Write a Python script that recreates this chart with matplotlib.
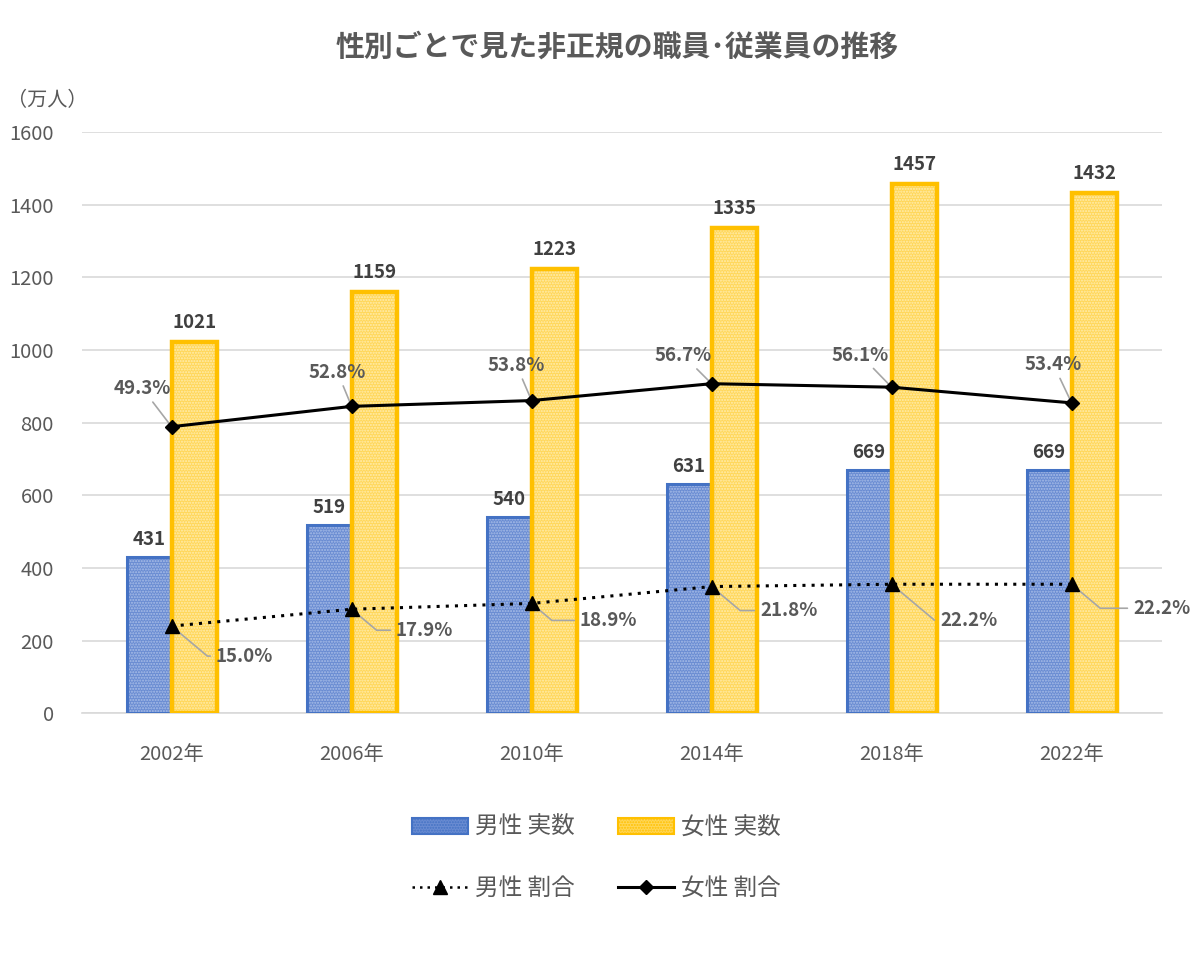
import matplotlib
matplotlib.use("Agg")
import matplotlib.pyplot as plt
from matplotlib.patches import Patch
from matplotlib.lines import Line2D
import numpy as np

plt.rcParams['font.family'] = ['Noto Sans CJK JP', 'DejaVu Sans']

years = ["2002年", "2006年", "2010年", "2014年", "2018年", "2022年"]
male_count = [431, 519, 540, 631, 669, 669]
female_count = [1021, 1159, 1223, 1335, 1457, 1432]
male_pct = [15.0, 17.9, 18.9, 21.8, 22.2, 22.2]
female_pct = [49.3, 52.8, 53.8, 56.7, 56.1, 53.4]

# label offsets in pixels (dx, dy) relative to each point
male_off = [(73, -30), (73, -21), (77, -17), (77, -24), (77, -36), (90, -24)]
female_off = [(-29, 38), (-14, 34), (-15, 35), (-28, 28), (-31, 32), (-18, 38)]

TXT = "#595959"
BLUE = "#4472C4"
GOLD = "#FFC000"
BLUE_FILL, BLUE_DOT = "#6A8CD2", "#A9BEE8"
GOLD_FILL, GOLD_DOT = "#FFD75A", "#FFEDB0"

fig = plt.figure(figsize=(12, 9.6), dpi=100)
ax = fig.add_axes([0.068, 0.257, 0.9, 0.6055])
x = np.arange(len(years))
w = 0.25

# bars: hatched fill first, outline second
ax.bar(x - w / 2, male_count, w, color=BLUE_FILL, edgecolor=BLUE_DOT,
       hatch="......", linewidth=0, zorder=2)
ax.bar(x - w / 2, male_count, w, fill=False, edgecolor=BLUE, linewidth=2.2, zorder=3)
ax.bar(x + w / 2, female_count, w, color=GOLD_FILL, edgecolor=GOLD_DOT,
       hatch="......", linewidth=0, zorder=2)
ax.bar(x + w / 2, female_count, w, fill=False, edgecolor=GOLD, linewidth=3.2, zorder=3)

for i in range(len(years)):
    ax.annotate(str(male_count[i]), (x[i] - w / 2, male_count[i]), xytext=(0, 8),
                textcoords="offset pixels", ha="center", va="bottom",
                fontsize=13.5, fontweight="bold", color="#404040")
    ax.annotate(str(female_count[i]), (x[i] + w / 2, female_count[i]), xytext=(0, 10),
                textcoords="offset pixels", ha="center", va="bottom",
                fontsize=13.5, fontweight="bold", color="#404040")

ax.set_xlim(-0.5, len(years) - 0.5)
ax.set_ylim(0, 1600)
ax.set_yticks(range(0, 1601, 200))
ax.set_xticks(x)
ax.set_xticklabels(years)
ax.tick_params(axis="both", length=0, labelsize=14.5, labelcolor=TXT)
ax.tick_params(axis="x", pad=22)
ax.tick_params(axis="y", pad=20)
ax.grid(axis="y", color="#D9D9D9", linewidth=1.2, zorder=0)
ax.set_axisbelow(True)
for s in ["top", "right", "left"]:
    ax.spines[s].set_visible(False)
ax.spines["bottom"].set_color("#D9D9D9")
ax.spines["bottom"].set_linewidth(1.2)

ax2 = ax.twinx()
ax2.set_ylim(0, 100)
ax2.axis("off")
ax2.plot(x, male_pct, color="black", linestyle=(0, (1, 2)), linewidth=2.2,
         marker="^", markersize=10, zorder=4)
ax2.plot(x, female_pct, color="black", linewidth=2.2, marker="D",
         markersize=7, zorder=4)

for i in range(len(years)):
    ax2.annotate(f"{male_pct[i]:.1f}%", (x[i], male_pct[i]), xytext=male_off[i],
                 textcoords="offset pixels", ha="center", va="center",
                 fontsize=13.5, fontweight="bold", color=TXT,
                 arrowprops=dict(arrowstyle="-", color="#A6A6A6", lw=1.2,
                                 shrinkA=2, shrinkB=3,
                                 connectionstyle="angle,angleA=0,angleB=-40,rad=0"))
    ax2.annotate(f"{female_pct[i]:.1f}%", (x[i], female_pct[i]), xytext=female_off[i],
                 textcoords="offset pixels", ha="center", va="center",
                 fontsize=13.5, fontweight="bold", color=TXT,
                 arrowprops=dict(arrowstyle="-", color="#A6A6A6", lw=1.2,
                                 shrinkA=1, shrinkB=3))

fig.text(0.514, 0.951, "性別ごとで見た非正規の職員･従業員の推移", ha="center",
         va="center", fontsize=20.8, fontweight="bold", color=TXT)
fig.text(0.006, 0.895, "（万人）", ha="left", va="center", fontsize=14.5, color=TXT)

handles = [
    Patch(facecolor=BLUE_FILL, edgecolor=BLUE, hatch="......", linewidth=1.5),
    Line2D([], [], color="black", linestyle=(0, (1, 2)), linewidth=1.8,
           marker="^", markersize=10),
    Patch(facecolor=GOLD_FILL, edgecolor=GOLD, hatch="......", linewidth=1.5),
    Line2D([], [], color="black", linewidth=2.2, marker="D", markersize=7),
]
labels = ["男性 実数", "男性 割合", "女性 実数", "女性 割合"]
leg = fig.legend(handles, labels, loc="center", bbox_to_anchor=(0.497, 0.106),
                 ncol=2, frameon=False, fontsize=17, handlelength=2.4,
                 handleheight=0.65, handletextpad=0.3, columnspacing=1.8,
                 labelspacing=1.6)
for t in leg.get_texts():
    t.set_color(TXT)

fig.savefig("out.png", dpi=100, facecolor="white")
